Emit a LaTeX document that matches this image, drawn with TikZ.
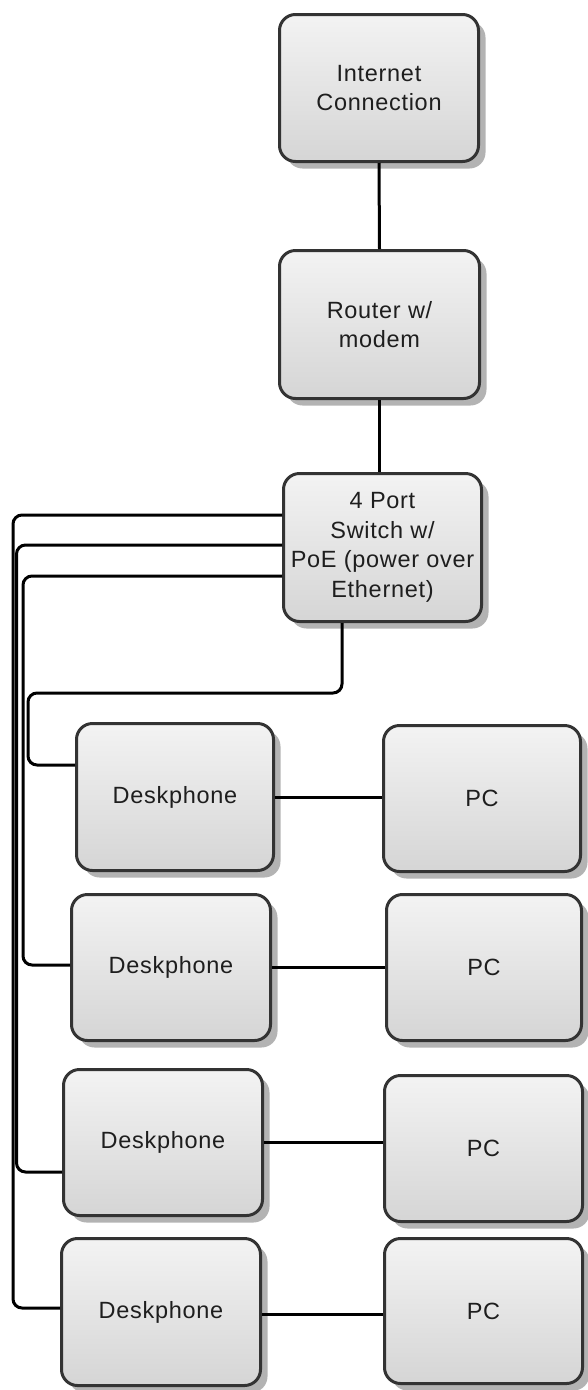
\documentclass[tikz,border=0pt]{standalone}
\usepackage{fontspec}
\setmainfont{Liberation Sans}
\newfontfamily\boxfont[LetterSpace=3]{Liberation Sans}
\usetikzlibrary{shadows}
\definecolor{boxline}{HTML}{333333}
\definecolor{boxtop}{HTML}{F3F3F3}
\definecolor{boxbot}{HTML}{D5D5D5}
\definecolor{shadowgray}{HTML}{B3B3B3}
\definecolor{txt}{HTML}{1E1E1E}
\tikzset{
  box/.style={rectangle, rounded corners=16pt, draw=boxline, line width=3pt,
    top color=boxtop, bottom color=boxbot, text=txt,
    align=center, inner sep=0pt,
    font=\boxfont\fontsize{23.5}{29.5}\selectfont,
    drop shadow={shadow xshift=7pt, shadow yshift=-7pt, fill=shadowgray, opacity=1}},
  conn/.style={line width=3pt, black, rounded corners=9pt}
}
\begin{document}
\begin{tikzpicture}[x=1pt, y=-1pt]
\useasboundingbox (0,0) rectangle (588,1390);
\node[box, minimum width=199pt, minimum height=147pt] (inet) at (379,88) {Internet\\Connection};
\node[box, minimum width=200pt, minimum height=148pt] (router) at (379.5,324.5) {Router w/\\modem};
\node[box, minimum width=198pt, minimum height=148pt] (switch) at (382.5,547.5) {4 Port\\Switch w/\\PoE (power over\\Ethernet)};
\node[box, minimum width=197pt, minimum height=147pt] (d1) at (175,797) {Deskphone};
\node[box, minimum width=197pt, minimum height=146pt] (pc1) at (482,798.5) {PC};
\node[box, minimum width=199pt, minimum height=146pt] (d2) at (171,967.5) {Deskphone};
\node[box, minimum width=195pt, minimum height=146pt] (pc2) at (484,967.5) {PC};
\node[box, minimum width=199pt, minimum height=146pt] (d3) at (163,1142.5) {Deskphone};
\node[box, minimum width=198pt, minimum height=146pt] (pc3) at (483.5,1148.5) {PC};
\node[box, minimum width=199pt, minimum height=147pt] (d4) at (161,1312) {Deskphone};
\node[box, minimum width=198pt, minimum height=145pt] (pc4) at (483.5,1311) {PC};

\draw[conn] (inet.south) -- (router.north);
\draw[conn] (router.south) -- (router.south |- switch.north);

\draw[conn] ([yshift=32.5pt]switch.west) -| (13,1308) -- ([yshift=4pt]d4.west);
\draw[conn] ([yshift=2.5pt]switch.west) -| (16.5,1172) -- ([yshift=-29.5pt]d3.west);
\draw[conn] ([yshift=-28.5pt]switch.west) -| (23,965) -- ([yshift=2.5pt]d2.west);
\draw[conn] ([xshift=-40.5pt]switch.south) |- (28,693) |- ([yshift=32pt]d1.west);

\draw[conn] (d1.east) -- (d1.east -| pc1.west);
\draw[conn] (d2.east) -- (d2.east -| pc2.west);
\draw[conn] (d3.east) -- (d3.east -| pc3.west);
\draw[conn] ([yshift=-2pt]d4.east) -- ([yshift=-2pt]d4.east -| pc4.west);
\end{tikzpicture}
\end{document}
